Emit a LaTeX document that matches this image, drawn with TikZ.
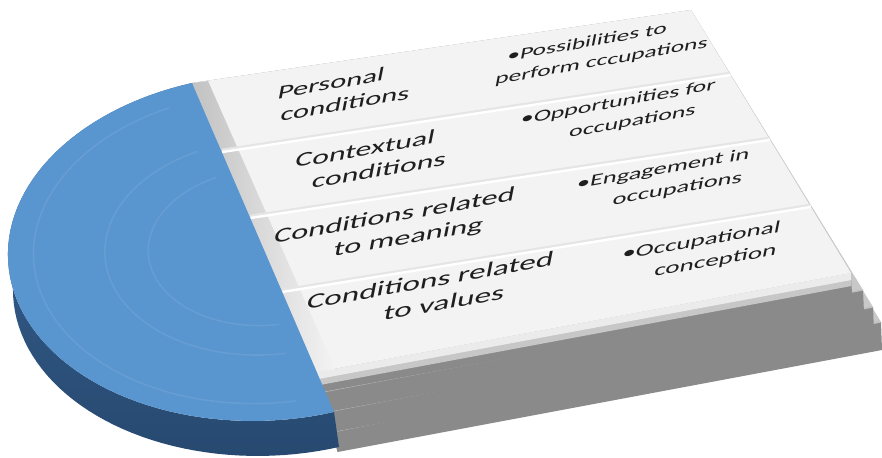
\documentclass[tikz,border=0pt]{standalone}
\usepackage{fontspec}
\newfontfamily\cali{Carlito}
\usepackage{tikz}

\definecolor{faceblue}{RGB}{89,149,207}
\definecolor{rimblue}{RGB}{46,86,132}
\definecolor{slabtop}{RGB}{243,243,243}
\definecolor{slabside}{RGB}{138,138,138}
\definecolor{ledge}{RGB}{200,200,200}
\newcommand\nextline{\\\hspace*{19pt}}

\begin{document}
\begin{tikzpicture}[x=0.5pt, y=-0.5pt,
	slabtext/.style={cm={0.985,0.174,0.125,0.63,(0,0)}, transform shape, align=center, inner sep=0pt, text=black!88},
	condition/.style 2 args={slabtext, font=\cali\fontsize{#1}{#2}\selectfont}]
	\useasboundingbox (0,0) rectangle (882,457);
	\coordinate (tl) at (192,83);
	\coordinate (tr) at (691,10);
	\coordinate (br) at (851,273);
	\coordinate (bl) at (317,372);
	\foreach \lx/\ly/\rx/\ry/\rz in {332/432/881/322/350, 327/412/873/307/332, 322/392/863/290/313} {
		\fill[ledge] (tl) -- (tr) -- (\rx,\ry) -- (\lx,\ly) -- cycle;
		\fill[slabside] (\lx,\ly) -- (\rx,\ry) -- (\rx+1,\rz) -- (\lx+5.5,\ly+20) -- cycle;
		\draw[black!25, line width=0.6pt] (\lx,\ly) -- (\rx,\ry);
	}
	\fill[slabside] (bl) -- (br) -- (852,295) -- (322,392) -- cycle;
	\fill[black!22] (bl) -- (br) -- (851.5,286) -- (320,385) -- cycle;
	\fill[black!8] (bl) -- (br) -- (851.3,280) -- (318.5,379) -- cycle;
	\fill[slabtop] (tl) -- (tr) -- (br) -- (bl) -- cycle;
	\shade[left color=black!24, right color=slabtop] (tl) -- (208,81) -- (335,369) -- (bl) -- cycle;
	\path (tl) -- (bl) coordinate[pos=0.239] (l1) coordinate[pos=0.467] (l2) coordinate[pos=0.723] (l3);
	\path (tr) -- (br) coordinate[pos=0.247] (r1) coordinate[pos=0.494] (r2) coordinate[pos=0.749] (r3);
	\foreach \i in {1,2,3} {
		\draw[black!10, line width=1.4pt] ([yshift=1pt]l\i) -- ([yshift=1pt]r\i);
		\draw[white, line width=1.2pt] (l\i) -- (r\i);
	}
	\shade[top color=rimblue!75!faceblue, bottom color=rimblue!85!black] plot[domain=0:180, samples=72] ({268+71*cos(\x)-245*sin(\x)}, {282.5+164.5*cos(\x)+55*sin(\x)}) -- (tl) -- plot[domain=180:0, samples=72] ({263+71*cos(\x)-245*sin(\x)}, {247.5+164.5*cos(\x)+55*sin(\x)}) -- cycle;
	\fill[faceblue] plot[domain=0:180, samples=90] ({263+71*cos(\x)-245*sin(\x)}, {247.5+164.5*cos(\x)+55*sin(\x)}) -- cycle;
	\foreach \s in {0.9, 0.62, 0.45}
		\draw[white, opacity=0.08, line width=0.8pt] plot[domain=8:172, samples=60] ({263+\s*(71*cos(\x)-245*sin(\x))}, {247.5+\s*(164.5*cos(\x)+55*sin(\x))});
	\node[condition={15.5}{19}] (pers) at (329,95) {Personal\nextline conditions};
	\node[condition={16.1}{19.5}] (cont) at (363,161) {Contextual\nextline conditions};
	\node[condition={16.4}{19.8}] (mean) at (392,229) {Conditions related\nextline to meaning};
	\node[condition={16.8}{20.2}] (vals) at (428,293) {Conditions related\nextline to values};
	\node[condition={12.9}{17.5}] (poss) at (585,54) {\textbullet Possibilities to\nextline perform cccupations};
	\node[condition={13.1}{17.8}] (opp) at (616,114) {\textbullet Opportunities for\nextline occupations};
	\node[condition={13.4}{18.2}] (eng) at (661,181) {\textbullet Engagement in\nextline occupations};
	\node[condition={13.7}{18.6}] (occ) at (699,253) {\textbullet Occupational\nextline conception};
\end{tikzpicture}
\end{document}
